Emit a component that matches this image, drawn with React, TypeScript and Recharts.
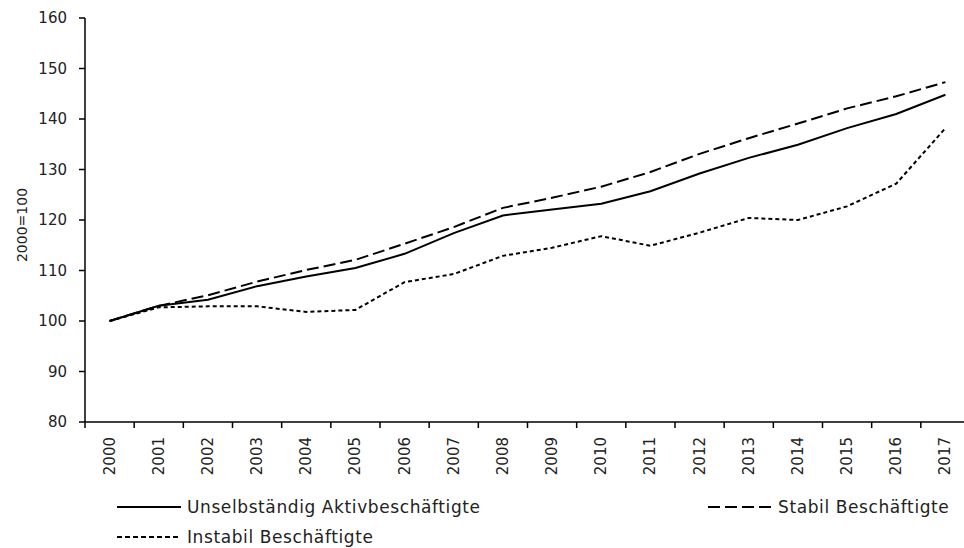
import React from 'react';
import { LineChart, Line, XAxis, YAxis, Legend } from 'recharts';

const years = ['2000','2001','2002','2003','2004','2005','2006','2007','2008','2009','2010','2011','2012','2013','2014','2015','2016','2017'];
const aktiv = [100, 103, 104.2, 106.9, 108.8, 110.5, 113.3, 117.4, 120.9, 122.1, 123.2, 125.7, 129.2, 132.3, 134.9, 138.2, 141.0, 144.8];
const stabil = [100, 103, 105.1, 107.8, 110.1, 112.1, 115.3, 118.6, 122.4, 124.4, 126.6, 129.5, 133.1, 136.2, 139.1, 142.1, 144.5, 147.3];
const instabil = [100, 102.7, 102.9, 102.9, 101.8, 102.2, 107.7, 109.3, 112.9, 114.5, 116.8, 114.9, 117.5, 120.4, 120.0, 122.7, 127.2, 138.2];
const yTicks = [80, 90, 100, 110, 120, 130, 140, 150, 160];
const seriesNames = ['Unselbständig Aktivbeschäftigte', 'Stabil Beschäftigte', 'Instabil Beschäftigte'];
const legendDashes = ['', '12 5', '5 3'];

const data = years.map((y, i) => ({ i, year: y, aktiv: aktiv[i], stabil: stabil[i], instabil: instabil[i] }));
const xTicks: number[] = [];
for (let k = 0; k <= years.length * 2; k++) xTicks.push(k / 2 - 0.5);

const FONT = '"DejaVu Sans", sans-serif';

const XTick = (props: any) => {
  const { x, y, payload } = props;
  const v = payload.value;
  if (Math.abs(v - Math.round(v)) > 0.1) {
    return <line x1={x} x2={x} y1={y} y2={y + 6} stroke="#000" strokeWidth={1.5} />;
  }
  const label = years[Math.round(v)];
  if (!label) return null;
  const ty = y + 15;
  return (
    <text x={x} y={ty} transform={`rotate(-90, ${x}, ${ty})`} textAnchor="end" dominantBaseline="central"
      fontFamily={FONT} fontSize={15} fill="#222">{label}</text>
  );
};

const LegendContent = (props: any) => {
  const payload = [...(props.payload || [])].sort(
    (a: any, b: any) => seriesNames.indexOf(a.value) - seriesNames.indexOf(b.value)
  );
  return (
    <div style={{ display: 'grid', gridTemplateColumns: '591px auto', rowGap: 10, paddingLeft: 117, fontFamily: FONT, fontSize: 17, letterSpacing: 0.6, color: '#222' }}>
      {payload.map((e: any) => {
        const dash = legendDashes[seriesNames.indexOf(e.value)];
        return (
          <div key={e.value} style={{ display: 'flex', alignItems: 'center', height: 20 }}>
            <svg width={70} height={20}>
              <line x1={0} x2={64} y1={10} y2={10} stroke="#000" strokeWidth={2} strokeDasharray={dash || undefined} />
            </svg>
            <span>{e.value}</span>
          </div>
        );
      })}
    </div>
  );
};

export default function App() {
  return (
    <div style={{ position: 'absolute', left: 0, top: 0, width: 964, height: 548, overflow: 'hidden', background: '#fff' }}>
      <LineChart width={980} height={548} data={data} margin={{ top: 18, right: 10, left: 0, bottom: 66 }}>
        <XAxis dataKey="i" type="number" domain={[-0.5, years.length - 0.5]} ticks={xTicks} interval={0}
          tick={<XTick />} tickLine={false} tickSize={0} tickMargin={0} height={60}
          axisLine={{ stroke: '#000', strokeWidth: 1.5 }} />
        <YAxis domain={[80, 160]} ticks={yTicks} interval={0} width={85} tickSize={6} tickMargin={12}
          tickLine={{ stroke: '#000', strokeWidth: 1.5 }} axisLine={{ stroke: '#000', strokeWidth: 1.5 }}
          tick={{ fontFamily: FONT, fontSize: 15, fill: '#222' }}
          label={{ value: '2000=100', angle: -90, position: 'insideLeft', dx: 17, dy: 5, style: { fontFamily: FONT, fontSize: 14, fill: '#222', textAnchor: 'middle' } }} />
        <Line dataKey="aktiv" name={seriesNames[0]} stroke="#000" strokeWidth={2} dot={false} isAnimationActive={false} />
        <Line dataKey="stabil" name={seriesNames[1]} stroke="#000" strokeWidth={2} strokeDasharray="12 5" dot={false} isAnimationActive={false} />
        <Line dataKey="instabil" name={seriesNames[2]} stroke="#000" strokeWidth={2} strokeDasharray="4 3" dot={false} isAnimationActive={false} />
        <Legend layout="horizontal" verticalAlign="middle" align="center" content={<LegendContent />}
          wrapperStyle={{ top: 497, left: 0, width: 964 }} />
      </LineChart>
    </div>
  );
}
